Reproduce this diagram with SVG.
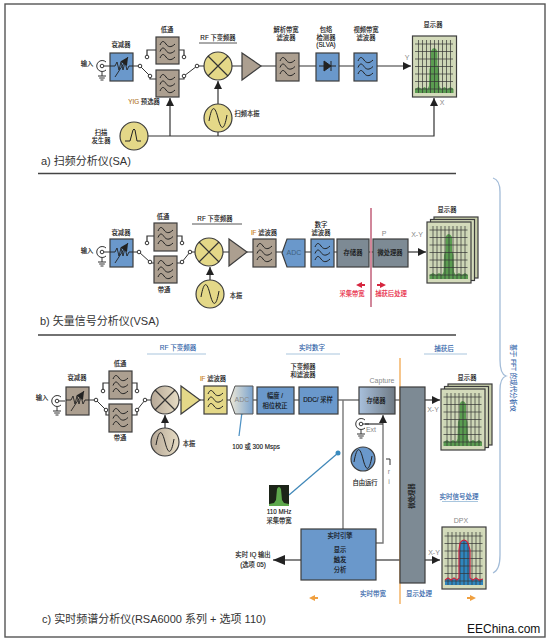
<svg xmlns="http://www.w3.org/2000/svg" xmlns:xlink="http://www.w3.org/1999/xlink" width="548" height="641" viewBox="0 0 548 641">
<style>
text{font-family:"Liberation Sans","Noto Sans CJK SC",sans-serif;fill:#111;stroke:#111;stroke-width:.12;font-size:6.3px;text-anchor:middle}
.t{font-size:11px;text-anchor:start;fill:#333;stroke:none}
.g{fill:#888;stroke:none;font-size:7px}
.bl{fill:#2f62a8;stroke:#2f62a8;font-size:6.5px}
.rd{fill:#e8203c;stroke:#e8203c;font-size:6.3px}
.box{stroke:#3d3d3d;stroke-width:1.2}
.tan{fill:#ac9f90}.blu{fill:#6a98cb}.yel{fill:#e4d888}.gry{fill:#7d8a94}
.w{fill:none;stroke:#333;stroke-width:1}
.c{fill:none;stroke:#333;stroke-width:1.2}
.cg{fill:none;stroke:#777;stroke-width:1.4}
.dot{fill:#fff;stroke:#333;stroke-width:1}
.ul{stroke:#a9c6de;stroke-width:1.2;fill:none}
.dk{stroke:#555;stroke-width:1;fill:none}
</style>
<defs>
<marker id="ar" markerUnits="userSpaceOnUse" markerWidth="9" markerHeight="8" refX="8" refY="4" orient="auto"><path d="M0 0L8 4L0 8z" fill="#222"/></marker>
<marker id="arb" markerUnits="userSpaceOnUse" markerWidth="13" markerHeight="10" refX="12" refY="5" orient="auto"><path d="M0 0L12 5L0 10z" fill="#222"/></marker>
<linearGradient id="gmix" x1="0" x2="1" y1="0" y2="0"><stop offset="0" stop-color="#b5a796"/><stop offset="1" stop-color="#e6dcc4"/></linearGradient>
<linearGradient id="gadc" x1="0" x2="1" y1="0" y2="0"><stop offset="0" stop-color="#eee8d6"/><stop offset="1" stop-color="#7aa3cf"/></linearGradient>
<linearGradient id="gmem" x1="0" x2="1" y1="0" y2="0"><stop offset="0" stop-color="#a8c0dc"/><stop offset="1" stop-color="#6f7a84"/></linearGradient>
<g id="waves" fill="none" stroke="#222" stroke-width="1"><path d="M4 8c2-5 4-4 6-1s5 4 9 0"/><path d="M4 14.500c2-5 4-4 6-1s5 4 9 0"/><path d="M4 21c2-5 4-4 6-1s5 4 9 0"/></g>
<g id="att" fill="none" stroke="#222" stroke-width="0.900"><path d="M0 14H5L7 10L9 18L11 10L13 18L15 10L17 18L19 14H23"/><path d="M5 25L18 5" marker-end="url(#ar)"/></g>
<g id="x" stroke="#333" stroke-width="1.2"><path d="M-10 -10L10 10M-10 10L10 -10"/></g>
<path id="sine" fill="none" stroke="#222" stroke-width="1" d="M-9 3C-6 -14 -3 -12 0 0S6 14 9 -3"/>
<g id="conn" fill="none" stroke="#333" stroke-width="1"><path d="M4 -4A5.500 5.500 0 1 0 4 4"/><circle r="1.800" fill="#fff"/><path d="M2 0H8M0 5.500V10M-4 10H4M-2.800 12H2.800M-1.500 14H1.500"/></g>
<g id="grid" stroke="#333" stroke-width="0.7"><path d="M2.500 8H40.500M2.500 15.500H40.500M2.500 23H40.500M2.500 30.500H40.500M2.500 38H40.500M2.500 45.500H40.500M2.500 53H40.500M6 4V57M10 4V57M14 4V57M18 4V57M22 4V57M26 4V57M30 4V57M34 4V57M38 4V57"/></g>
<g id="disp">
<rect x="0" y="0" width="44" height="61" fill="#d4dbbb" stroke="#3d3d3d" stroke-width="1.200"/>
<rect x="2.500" y="4" width="38.500" height="53" fill="#cdd6b6"/>
<path d="M2.500 57V53L6 51L9 53L12 51L15 53L16.500 50L17 33L18.500 29L18.500 15Q21.500 9 25 15L25 29L26.500 33L27 50L28.500 53L32 51L35 53L38 51L41 53V57z" fill="#5a9c50"/>
<use xlink:href="#grid" href="#grid"/>
</g>
<g id="dispb">
<rect x="7" y="-5" width="44" height="61" fill="#c7ceaa" stroke="#3d3d3d" stroke-width="1.200"/>
<rect x="3.500" y="-2.500" width="44" height="61" fill="#d4dbbb" stroke="#3d3d3d" stroke-width="1.200"/>
<use xlink:href="#disp" href="#disp"/>
</g>
</defs>
<rect width="548" height="641" fill="#fff"/>
<g id="frame"><rect x="5" y="4" width="540" height="633" fill="none" stroke="#555" stroke-width="1.400"/>
<path d="M38 173.500H456M38 335H456" stroke="#444" stroke-width="1.300"/></g>
<g id="connectors">
<path class="c" d="M133 66H140M150 76V79H156M147 57V50H156M184 57V50H179M184 76V79H179M197 66H204M232 66H242M261 66H276M299 66H316M339 66H354"/>
<path class="w" d="M140 66L150 76M184 76L197 66"/>
<path class="c" d="M377 66H411" marker-end="url(#ar)"/>
<path class="c" d="M148 136H434V98" marker-end="url(#ar)"/>
<path class="c" d="M218 104V81" marker-end="url(#ar)"/>
<path class="c" d="M218 132V136"/>
<path class="c" d="M170 136V98" marker-end="url(#ar)"/>
<path class="c" d="M133 252H139M150 262V263H154M147 243V236H154M182 243V236H177M182 262V263H177M190 252H195M223 252H229M247 252H253M276 252H282M305 252H311M334 252H337M369 252H373"/>
<path class="w" d="M139 252L150 262M182 262L190 252"/>
<path class="c" d="M408 252H426" marker-end="url(#ar)"/>
<path class="c" d="M210 280V267" marker-end="url(#ar)"/>
<path class="c" d="M89 400H96M106 410V415H109M103 391V383H109M137 391V383H132M137 410V415H132M145 400H151M179 400H181M200 400H204M227 400H230M253 400H257M294 400H299M338 400H359M395 400H400"/>
<path class="w" d="M96 400L106 410M137 410L145 400"/>
<path class="c" d="M425 400H440" marker-end="url(#ar)"/>
<path class="c" d="M165 428V415" marker-end="url(#ar)"/>
<path class="cg" d="M343 400V529"/>
<path class="cg" d="M376 543H383V415" marker-end="url(#ar)"/>
<path class="c" d="M365 424H383"/>
<path class="w" d="M386 459H390V465"/>
<path class="c" d="M376 560H400"/>
<path class="c" d="M425 560H440" marker-end="url(#ar)"/>
<path class="c" d="M301 560H273" marker-end="url(#arb)"/>
<path d="M242 412L239 436" stroke="#4f92c4" stroke-width="1.200" fill="none"/><circle cx="242" cy="412" r="2.500" fill="#3a8cc0"/>
<path d="M338 453L289 495" stroke="#3f87b8" stroke-width="1.200" fill="none"/><circle cx="338" cy="453" r="2.500" fill="#3a8cc0"/>
</g>
<g id="dividers">
<path d="M371 208V307" stroke="#cc7a90" stroke-width="1.800"/>
<path d="M400 358V604" stroke="#f0a040" stroke-width="1.200"/>
<path d="M493 178Q500 180 500 192V360Q500 374 506 376Q500 378 500 390V555Q500 570 493 573" fill="none" stroke="#a3bcd8" stroke-width="1.300"/>
<path class="ul" d="M147 354H206M286 354H340M424 354H467M442 501.500H478"/>
<path class="dk" d="M199 43H237M192 224H242"/>
<path d="M356 285L362 282V284H365V286H362V288z" fill="#d6263f"/>
<path d="M386 285L380 282V284H377V286H380V288z" fill="#d6263f"/>
<path d="M309 598L315 595V597H318V599H315V601z" fill="#f0a040"/>
<path d="M476 598L470 595V597H467V599H470V601z" fill="#f0a040"/>
</g>
<g id="a-input"><use href="#conn" x="102" y="66"/><text x="87" y="66">输入</text></g>
<g id="a-att"><rect class="box blu" x="110" y="53" width="23" height="28"/><use href="#att" x="110" y="52"/><text x="121" y="47">衰减器</text></g>
<g id="a-lp"><rect class="box tan" x="156" y="37" width="23" height="27"/><use href="#waves" x="156" y="37"/><text x="167" y="32">低通</text></g>
<g id="a-yig"><rect class="box tan" x="156" y="70" width="23" height="27"/><use href="#waves" x="156" y="70"/><text x="144" y="104"><tspan style="fill:#b0762a;stroke:#b0762a">YIG</tspan> 预选器</text></g>
<g id="a-sw"><circle class="dot" cx="140" cy="66" r="1.800"/><circle class="dot" cx="150" cy="76" r="1.800"/><circle class="dot" cx="147" cy="57" r="1.800"/><circle class="dot" cx="184" cy="57" r="1.800"/><circle class="dot" cx="184" cy="76" r="1.800"/><circle class="dot" cx="197" cy="66" r="1.800"/></g>
<g id="a-mix"><circle class="box yel" cx="218" cy="66" r="14"/><use href="#x" x="218" y="66"/><text x="218" y="40">RF 下变频器</text></g>
<g id="a-amp"><path class="box tan" d="M242 53L261 66L242 80z"/></g>
<g id="a-lo"><circle class="box yel" cx="218" cy="118" r="14"/><use href="#sine" x="218" y="118"/><text x="247" y="116">扫频本振</text></g>
<g id="a-sweep"><circle class="box yel" cx="134" cy="136" r="14"/><path d="M-9 5H-4L-1 -6Q0 -8 1 -6L3 5H7" transform="translate(134 136)" fill="none" stroke="#222"/><text x="101" y="135">扫描</text><text x="101" y="143">发生器</text></g>
<g id="a-rbw"><rect class="box tan" x="276" y="53" width="23" height="28"/><use href="#waves" x="276" y="53"/><text x="286" y="32">解析带宽</text><text x="286" y="40">滤波器</text></g>
<g id="a-det"><rect class="box blu" x="316" y="53" width="23" height="28"/><path d="M319 66H336M331 61V71M324 61L331 66L324 71z" stroke="#222" fill="#222"/><text x="326" y="32">包络</text><text x="326" y="40">检测器</text><text x="326" y="47">(SLVA)</text></g>
<g id="a-vbw"><rect class="box blu" x="354" y="53" width="23" height="28"/><use href="#waves" x="354" y="53"/><text x="366" y="32">视频带宽</text><text x="366" y="40">滤波器</text></g>
<g id="a-disp"><use href="#disp" x="412.500" y="36"/><text x="433" y="27">显示器</text><text class="g" x="407" y="60">Y</text><text class="g" x="442" y="105">X</text></g>
<text class="t" x="41" y="165">a) 扫频分析仪(SA)</text>
<g id="b-input"><use href="#conn" x="102" y="252"/><text x="87" y="253">输入</text></g>
<g id="b-att"><rect class="box blu" x="110" y="239" width="23" height="28"/><use href="#att" x="110" y="238"/><text x="121" y="235">衰减器</text></g>
<g id="b-lp"><rect class="box tan" x="154" y="223" width="23" height="28"/><use href="#waves" x="154" y="223"/><text x="163" y="219">低通</text></g>
<g id="b-bp"><rect class="box tan" x="154" y="256" width="23" height="27"/><use href="#waves" x="154" y="256"/><text x="164" y="292">带通</text></g>
<g id="b-sw"><circle class="dot" cx="139" cy="252" r="1.800"/><circle class="dot" cx="150" cy="262" r="1.800"/><circle class="dot" cx="147" cy="243" r="1.800"/><circle class="dot" cx="182" cy="243" r="1.800"/><circle class="dot" cx="182" cy="262" r="1.800"/><circle class="dot" cx="190" cy="252" r="1.800"/></g>
<g id="b-mix"><circle class="box yel" cx="209" cy="252" r="14"/><use href="#x" x="209" y="252"/><text x="215" y="221">RF 下变频器</text></g>
<g id="b-amp"><path class="box tan" d="M229 239L247 252L229 266z"/></g>
<g id="b-lo"><circle class="box yel" cx="210" cy="294" r="14"/><use href="#sine" x="210" y="294"/><text x="236" y="298">本振</text></g>
<g id="b-if"><rect class="box tan" x="253" y="239" width="23" height="28"/><use href="#waves" x="253" y="239"/><text x="264" y="235"><tspan style="fill:#c8801a;stroke:#c8801a">IF</tspan> 滤波器</text></g>
<g id="b-adc"><path class="box blu" d="M282 253L287 239H305V267H287z"/><text class="g" x="294" y="255" style="fill:#3f5f80">ADC</text></g>
<g id="b-dig"><rect class="box blu" x="311" y="239" width="23" height="28"/><use href="#waves" x="311" y="239"/><text x="321" y="227">数字</text><text x="321" y="235">滤波器</text></g>
<g id="b-mem"><rect class="box gry" x="337" y="239" width="32" height="28"/><text x="353" y="255">存储器</text></g>
<g id="b-up"><rect class="box gry" x="373" y="239" width="35" height="28"/><text x="390" y="255">微处理器</text><text class="g" x="384" y="236">P</text></g>
<g id="b-disp"><use href="#dispb" x="427" y="222"/><text x="447" y="212">显示器</text><text class="g" x="417" y="237">X-Y</text></g>
<g id="b-notes"><text class="rd" x="352" y="296">采集带宽</text><text class="rd" x="391" y="296">捕获后处理</text></g>
<text class="t" x="40" y="325">b) 矢量信号分析仪(VSA)</text>
<text class="bl" x="178" y="350">RF 下变频器</text><text class="bl" x="312" y="350">实时数字</text><text class="bl" x="444" y="351">捕获后</text>
<text class="bl" x="511" y="378" transform="rotate(90 511 378)">基于 FFT 的现代分析仪</text>
<g id="c-input"><use href="#conn" x="57" y="401"/><text x="42" y="400">输入</text></g>
<g id="c-att"><rect class="box tan" x="66" y="387" width="23" height="28"/><use href="#att" x="66" y="386"/><text x="77" y="380">衰减器</text></g>
<g id="c-lp"><rect class="box tan" x="109" y="371" width="23" height="28"/><use href="#waves" x="109" y="371"/><text x="120" y="366">低通</text></g>
<g id="c-bp"><rect class="box tan" x="109" y="404" width="23" height="28"/><use href="#waves" x="109" y="404"/><text x="120" y="440">带通</text></g>
<g id="c-sw"><circle class="dot" cx="96" cy="400" r="1.800"/><circle class="dot" cx="106" cy="410" r="1.800"/><circle class="dot" cx="103" cy="391" r="1.800"/><circle class="dot" cx="137" cy="391" r="1.800"/><circle class="dot" cx="137" cy="410" r="1.800"/><circle class="dot" cx="145" cy="400" r="1.800"/></g>
<g id="c-mix"><circle class="box" fill="url(#gmix)" cx="165" cy="400" r="14"/><use href="#x" x="165" y="400"/></g>
<g id="c-amp"><path class="box yel" d="M181 386L200 400L181 414z"/></g>
<g id="c-lo"><circle class="box" fill="url(#gmix)" cx="165" cy="442" r="14"/><use href="#sine" x="165" y="442"/><text x="189" y="446">本振</text></g>
<g id="c-if"><rect class="box yel" x="204" y="386" width="23" height="28"/><use href="#waves" x="204" y="386"/><text x="213" y="381"><tspan style="fill:#c8801a;stroke:#c8801a">IF</tspan> 滤波器</text></g>
<g id="c-adc"><path stroke="#555" stroke-width="1" fill="url(#gadc)" d="M230 400L235 386H253V414H235z"/><text class="g" x="242" y="402">ADC</text></g>
<text x="256" y="449">100 或 300 Msps</text>
<g id="c-amp-phase"><rect class="box blu" x="257" y="387" width="37" height="27"/><text x="275" y="398">幅度 /</text><text x="275" y="408">相位校正</text></g>
<g id="c-ddc"><rect class="box blu" x="299" y="387" width="39" height="27"/><text x="318" y="402">DDC/ 采样</text><text x="303" y="369">下变频器</text><text x="303" y="377">和滤波器</text></g>
<g id="c-mem"><rect class="box" fill="url(#gmem)" x="359" y="387" width="36" height="27"/><text x="376" y="403">存储器</text><text class="g" x="382" y="383">Capture</text></g>
<g id="c-ext"><use href="#conn" x="361" y="424"/><text class="g" x="371" y="432">Ext</text></g>
<g id="c-free"><circle class="box blu" cx="363" cy="459" r="12"/><use href="#sine" x="363" y="459"/><text x="365" y="485">自由运行</text><text class="g" x="389" y="474">r</text><text class="g" x="389" y="484">i</text></g>
<g id="c-up"><rect class="box gry" x="400" y="387" width="25" height="196"/><text x="412" y="496" transform="rotate(-90 412 496)" dy="2">微处理器</text></g>
<g id="c-disp"><use href="#dispb" x="441" y="389"/><text x="467" y="380">显示器</text><text class="g" x="433" y="412">X-Y</text></g>
<g id="c-thumb"><rect x="269" y="485" width="20" height="21" fill="#1c2418"/><path d="M269 506V504L274 503L276 500L277 489Q279 485 281 489L282 500L284 503L289 504V506z" fill="#5ea84c"/><text x="279" y="514">110 MHz</text><text x="279" y="523">采集带宽</text></g>
<g id="c-engine"><rect class="box blu" x="301" y="529" width="75" height="51"/><text x="340" y="538">实时引擎</text><text x="340" y="552">显示</text><text x="340" y="562">触发</text><text x="340" y="572">分析</text></g>
<g id="c-iq"><text x="253" y="557">实时 IQ 输出</text><text x="253" y="567">(选项 05)</text></g>
<g id="c-dpx"><rect x="442" y="527" width="44" height="62" fill="#d4dbbb" stroke="#3d3d3d" stroke-width="1.200"/><rect x="445" y="532" width="38" height="53" fill="#cdd6b6"/><path d="M445 585V580L448 578L451 580L454 578L457 580L459 578L459 550L460 543Q464 537 468 543L470 550L470 578L473 580L476 578L479 580L483 579V585z" fill="#2f86bf"/><use href="#grid" x="442" y="528"/><path d="M445 580L448 578L451 580L454 578L457 580L459 578L459 550L460 543Q464 537 468 543L470 550L470 578L473 580L476 578L479 580L483 579" fill="none" stroke="#c9243f" stroke-width="1.200"/><text class="g" x="461" y="523">DPX</text><text class="g" x="434" y="555">X-Y</text></g>
<text class="bl" x="459" y="499">实时信号处理</text><text class="bl" x="373" y="596">实时带宽</text><text class="bl" x="419" y="596">显示处理</text>
<text class="t" x="42" y="623">c) 实时频谱分析仪(RSA6000 系列 + 选项 110)</text>
<text x="467" y="633" style="text-anchor:start;font-size:12px;fill:#111;stroke:none">EEChina.com</text>
</svg>
